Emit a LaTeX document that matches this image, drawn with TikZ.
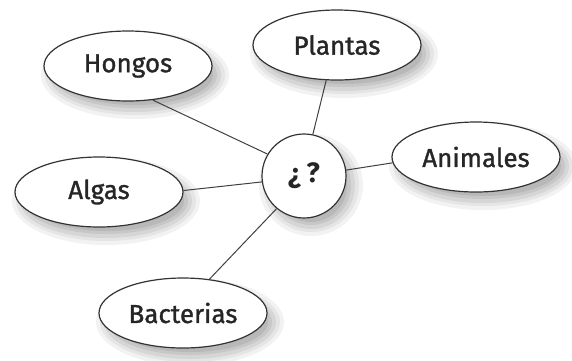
\documentclass[tikz,border=0pt]{standalone}
\usepackage{fontspec}
\newfontfamily\labelfont[FakeBold=1.2]{Fira Sans}
\newfontfamily\hubfont{Fira Sans}
\usetikzlibrary{shapes.geometric}
\definecolor{sh1}{gray}{0.95}
\definecolor{sh2}{gray}{0.90}
\definecolor{sh3}{gray}{0.84}
\definecolor{sh4}{gray}{0.78}
\definecolor{sh5}{gray}{0.72}
\newcommand\softshade[4]{%
  \path[fill=sh1] (#1+7,#2+9) ellipse ({#3+10} and {#4+9});
  \path[fill=sh2] (#1+7,#2+9) ellipse ({#3+6} and {#4+5});
  \path[fill=sh3] (#1+7,#2+9) ellipse ({#3+2} and {#4+2});
  \path[fill=sh4] (#1+7,#2+9) ellipse ({#3-2} and {#4-2});
  \path[fill=sh5] (#1+7,#2+9) ellipse ({#3-6} and {#4-5});}
\begin{document}
\begin{tikzpicture}[x=1pt,y=-1pt,
  bubble/.style={ellipse, draw=black!80, line width=1.2pt, fill=white,
    minimum width=168pt, minimum height=70pt, inner sep=0pt,
    font=\labelfont\fontsize{26}{30}\selectfont, text=black!85},
  hub/.style={circle, draw=black!80, line width=1.2pt, fill=white,
    minimum size=84pt, inner sep=0pt,
    font=\hubfont\bfseries\fontsize{28}{32}\selectfont, text=black!85},
  link/.style={draw=black!75, line width=1pt}]
\useasboundingbox (0,0) rectangle (572,360);
\softshade{128}{66}{84}{35}
\softshade{337}{45}{84}{35}
\softshade{476}{157}{84}{35}
\softshade{99}{192}{84}{35}
\softshade{183}{313}{84}{35}
\softshade{304}{176}{42}{42}
\node[bubble] (hongos) at (128,66) {Hongos};
\node[bubble] (plantas) at (337,45) {Plantas};
\node[bubble] (animales) at (476,157) {Animales};
\node[bubble] (algas) at (99,192) {Algas};
\node[bubble] (bacterias) at (183,313) {Bacterias};
\node[hub] (q) at (304,176) {¿\,?};
\draw[link] (hongos.-54) -- (q.149);
\draw[link] (plantas.-107) -- (q.78);
\draw[link] (animales.184) -- (q.8);
\draw[link] (algas.1) -- (q.188);
\draw[link] (bacterias.52) -- (q.230);
\end{tikzpicture}
\end{document}
